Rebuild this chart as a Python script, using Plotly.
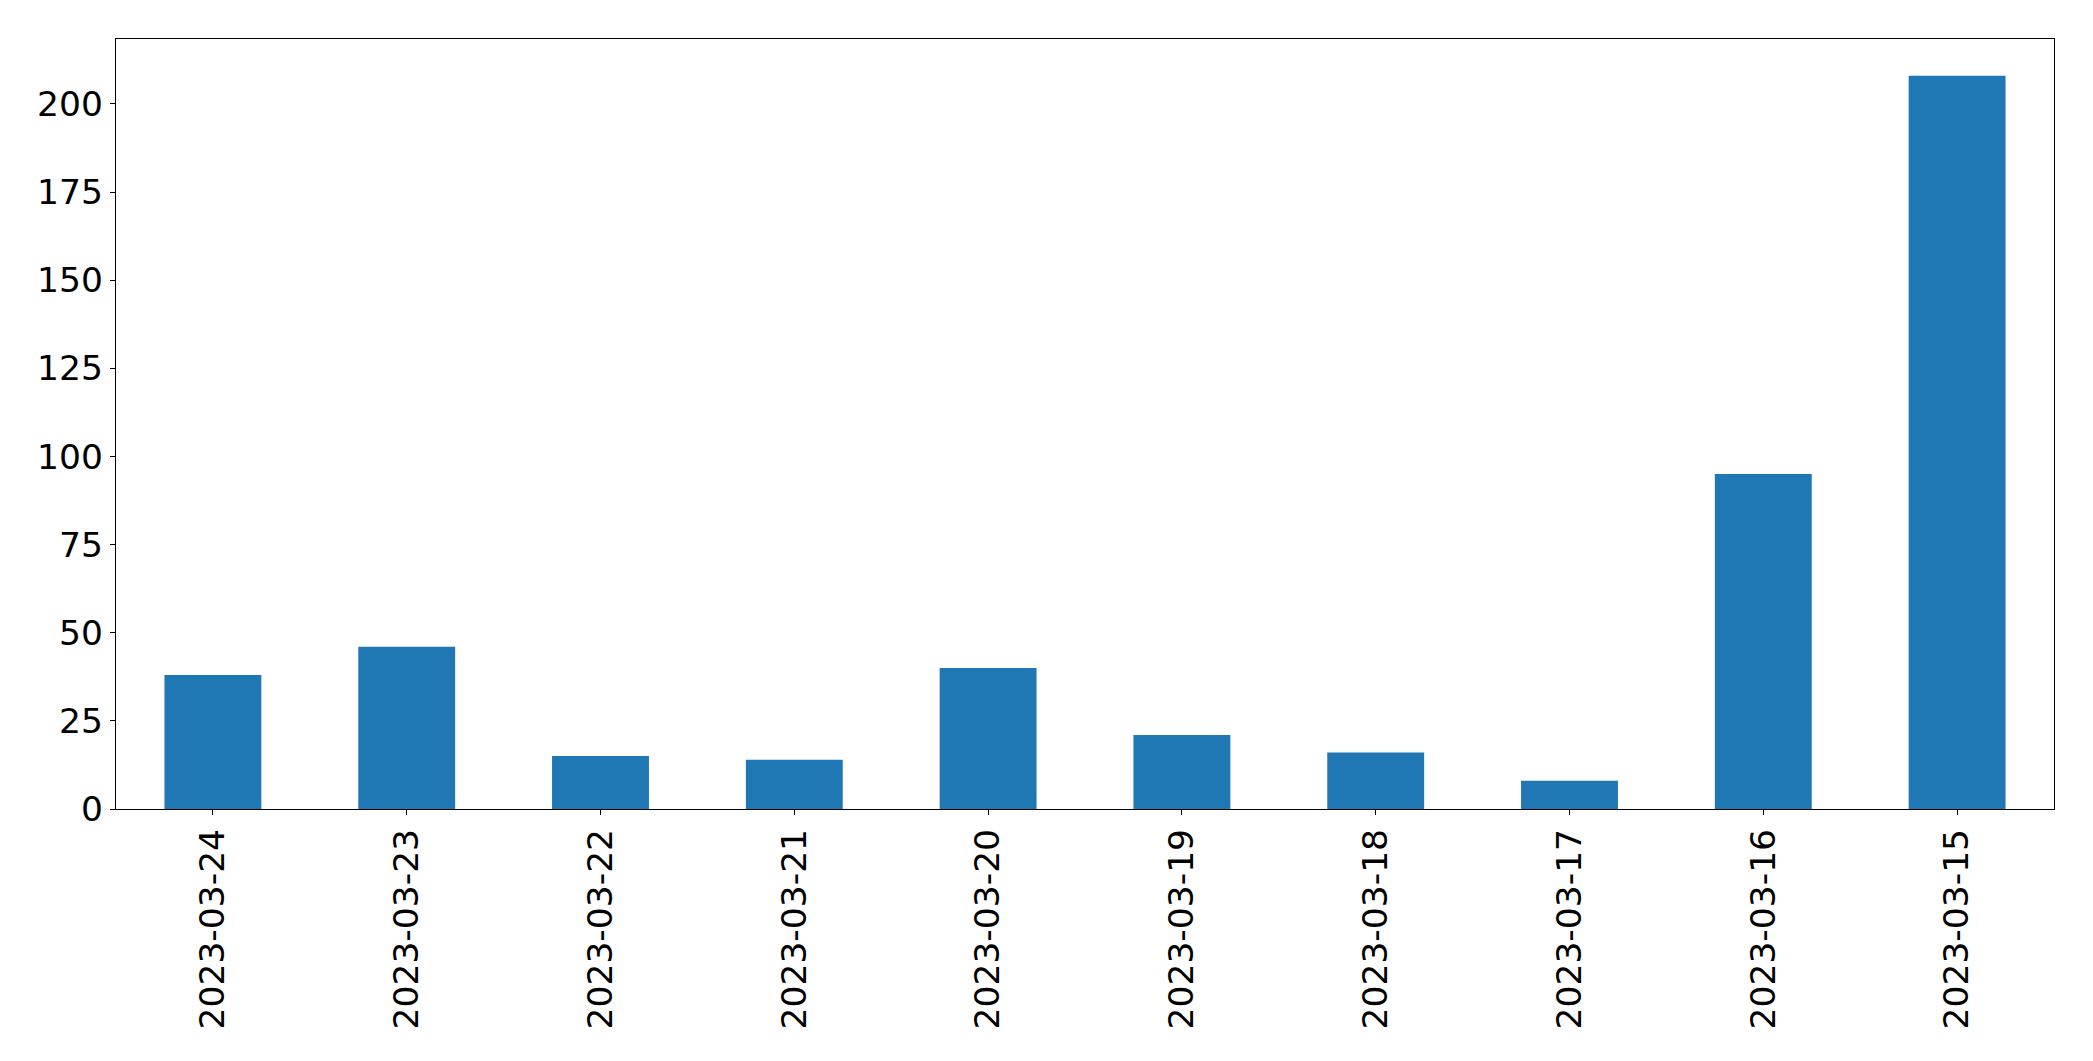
import plotly.graph_objects as go

dates = ["2023-03-24", "2023-03-23", "2023-03-22", "2023-03-21", "2023-03-20",
         "2023-03-19", "2023-03-18", "2023-03-17", "2023-03-16", "2023-03-15"]
counts = [38, 46, 15, 14, 40, 21, 16, 8, 95, 208]
y_ticks = [0, 25, 50, 75, 100, 125, 150, 175, 200]

fig = go.Figure(go.Bar(x=dates, y=counts, marker=dict(color="#1f77b4", line=dict(width=0)), width=0.5))

fig.update_layout(
    width=2093, height=1061,
    margin=dict(l=108, r=47, t=31, b=260, autoexpand=False),
    plot_bgcolor="white", paper_bgcolor="white",
    font=dict(family="DejaVu Sans", size=34.5, color="black"),
    showlegend=False,
)
fig.update_xaxes(
    type="category", range=[-0.5, len(dates) - 0.5], tickangle=-90,
    showline=True, linecolor="black", linewidth=1.3, mirror=True,
    ticks="outside", ticklen=5, tickcolor="black", showgrid=False,
    tickfont=dict(size=34.5), automargin=False,
)
fig.update_yaxes(
    range=[0, max(counts) * 1.05], tickvals=y_ticks,
    showline=True, linecolor="black", linewidth=1.3, mirror=True,
    ticks="outside", ticklen=5, tickcolor="black", showgrid=False, zeroline=False,
    tickfont=dict(size=34.5), automargin=False,
)

fig.write_html("out.html")
